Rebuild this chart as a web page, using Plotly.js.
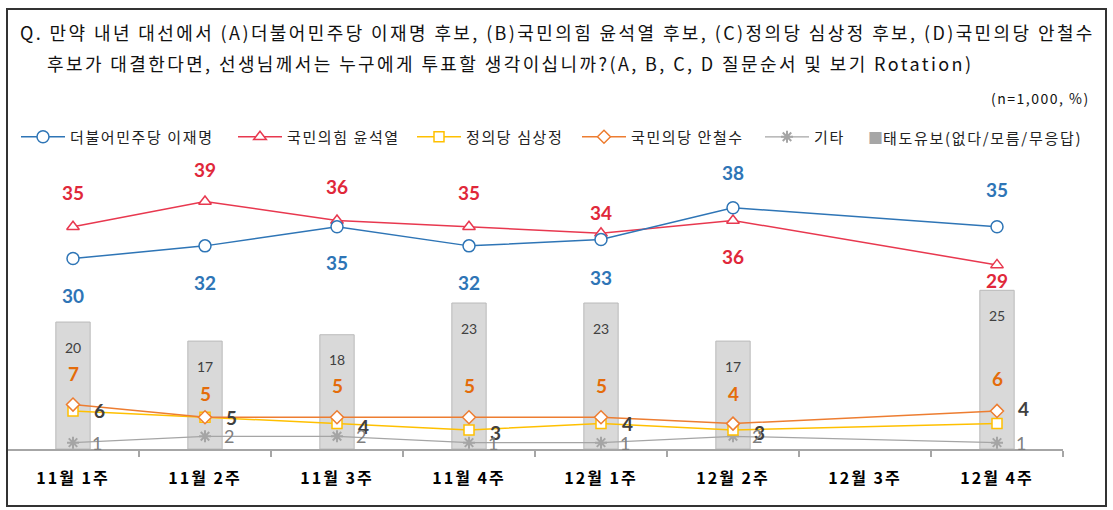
<!DOCTYPE html>
<html>
<head>
<meta charset="utf-8">
<script src="https://cdn.plot.ly/plotly-3.0.1.min.js"></script>
<style>
html, body { margin: 0; padding: 0; background: #fff; }
#chart { width: 1113px; height: 510px; }
</style>
</head>
<body>
<div id="chart"></div>
<script>
// DATA
var weeks = ['11월 1주', '11월 2주', '11월 3주', '11월 4주', '12월 1주', '12월 2주', '12월 3주', '12월 4주'];
var lee = [30, 32, 35, 32, 33, 38, null, 35];
var yoon = [35, 39, 36, 35, 34, 36, null, 29];
var sim = [6, 5, 4, 3, 4, 3, null, 4];
var ahn = [7, 5, 5, 5, 5, 4, null, 6];
var etc = [1, 2, 2, 1, 1, 2, null, 1];
var undecided = [20, 17, 18, 23, 23, 17, null, 25];

var names = ['더불어민주당 이재명', '국민의힘 윤석열', '정의당 심상정', '국민의당 안철수', '기타', '태도유보(없다/모름/무응답)'];

// label placement (pixels, relative to the point)
var leeShift = [-37, -37, -36, -37, -38, 35, 0, 37];
var yoonShift = [34, 32, 34, 34, 21, -36, 0, -16];
var ahnShift = [31, 24, 32, 32, 32, 30, 0, 32];
var simShift = [0, 0, -3, -3, 0, -3, 0, 15];

// GEOMETRY HELPERS
var W = 1113, H = 510, L = 7, R = 50, T = 157, B = 61;
var pw = W - L - R, ph = H - T - B;
function px(x) { return (x - L) / pw; }
function py(y) { return (H - B - y) / ph; }

var KR = '"Noto Sans CJK KR", "Noto Sans", sans-serif';
var NUM = 'Lato, "Noto Sans", sans-serif';

// wide letter spacing like the original
function spaced(s, ls) {
	return '<span style="letter-spacing:' + ls + 'px">' + s + '</span>';
}

function labels(vals, shifts, dx, font) {
	var out = [];
	vals.forEach(function (v, i) {
		if (v === null) return;
		out.push({
			x: weeks[i], y: v, xref: 'x', yref: 'y',
			text: String(v), showarrow: false,
			xshift: dx, yshift: shifts ? shifts[i] : 0,
			font: font
		});
	});
	return out;
}

var colors = {
	lee: '#2E75B6', yoon: '#E8384F', sim: '#FFC000',
	ahn: '#ED7D31', etc: '#A5A5A5', bar: '#D9D9D9'
};

var traces = [
	{
		type: 'bar', x: weeks, y: undecided, width: 0.26,
		marker: { color: colors.bar, line: { color: '#BABABA', width: 1 } },
		showlegend: false, hoverinfo: 'skip'
	},
	{
		type: 'scatter', mode: 'lines+markers', name: spaced(names[4], 1.6), x: weeks, y: etc,
		connectgaps: true, legend: 'legend5',
		line: { color: colors.etc, width: 1.25 },
		marker: { symbol: 'asterisk-open', size: 10, line: { color: '#BFBFBF', width: 2 } }
	},
	{
		type: 'scatter', mode: 'lines+markers', name: spaced(names[2], 1.6), x: weeks, y: sim,
		connectgaps: true, legend: 'legend3',
		line: { color: colors.sim, width: 1.5 },
		marker: { symbol: 'square', size: 10, color: '#fff', line: { color: colors.sim, width: 1.5 } }
	},
	{
		type: 'scatter', mode: 'lines+markers', name: spaced(names[3], 1.6), x: weeks, y: ahn,
		connectgaps: true, legend: 'legend4',
		line: { color: colors.ahn, width: 1.5 },
		marker: { symbol: 'diamond', size: 10, color: '#fff', line: { color: colors.ahn, width: 1.5 } }
	},
	{
		type: 'scatter', mode: 'lines+markers', name: spaced(names[1], 1.6), x: weeks, y: yoon,
		connectgaps: true, legend: 'legend2',
		line: { color: colors.yoon, width: 1.5 },
		marker: { symbol: 'triangle-up', size: 11, color: '#fff', line: { color: colors.yoon, width: 1.5 } }
	},
	{
		type: 'scatter', mode: 'lines+markers', name: spaced(names[0], 1.6), x: weeks, y: lee,
		connectgaps: true, legend: 'legend',
		line: { color: colors.lee, width: 1.5 },
		marker: { symbol: 'circle', size: 12, color: '#fff', line: { color: colors.lee, width: 1.5 } }
	}
];

var annotations = [];
annotations = annotations.concat(labels(lee, leeShift, 0, { family: NUM, size: 19, color: colors.lee, weight: 'bold' }));
annotations = annotations.concat(labels(yoon, yoonShift, 0, { family: NUM, size: 19, color: '#E0283A', weight: 'bold' }));
annotations = annotations.concat(labels(ahn, ahnShift, 0, { family: NUM, size: 19, color: '#E46C0A', weight: 'bold' }));
annotations = annotations.concat(labels(sim, simShift, 26, { family: NUM, size: 19, color: '#404040', weight: 'bold' }));
annotations = annotations.concat(labels(etc, null, 24, { family: NUM, size: 18, color: '#7F7F7F' }));
annotations = annotations.concat(labels(undecided, undecided.map(function () { return -25; }), 0, { family: NUM, size: 14, color: '#404040' }));

// titles
annotations.push({
	xref: 'paper', yref: 'paper', x: px(18), y: py(32), xanchor: 'left', yanchor: 'middle', showarrow: false,
	text: spaced('Q. 만약 내년 대선에서 (A)더불어민주당 이재명 후보, (B)국민의힘 윤석열 후보, (C)정의당 심상정 후보, (D)국민의당 안철수', 2.4),
	font: { family: KR, size: 18, color: '#111' }
});
annotations.push({
	xref: 'paper', yref: 'paper', x: px(45), y: py(63), xanchor: 'left', yanchor: 'middle', showarrow: false,
	text: spaced('후보가 대결한다면, 선생님께서는 누구에게 투표할 생각이십니까?(A, B, C, D 질문순서 및 보기 Rotation)', 2.4),
	font: { family: KR, size: 18, color: '#111' }
});
annotations.push({
	xref: 'paper', yref: 'paper', x: px(1092), y: py(98), xanchor: 'right', yanchor: 'middle', showarrow: false,
	text: spaced('(n=1,000, %)', 1.5), font: { family: KR, size: 14, color: '#111' }
});
annotations.push({
	xref: 'paper', yref: 'paper', x: px(866), y: py(137), xanchor: 'left', yanchor: 'middle', showarrow: false,
	text: '<span style="color:#A6A6A6">■</span>' + spaced(names[5], 1.7), font: { family: KR, size: 15, color: '#222' }
});

function leg(x) {
	return {
		x: px(x), y: py(137), xanchor: 'left', yanchor: 'middle', orientation: 'h',
		itemwidth: 44,
		bgcolor: 'rgba(0,0,0,0)', font: { family: KR, size: 15, color: '#222' }
	};
}

var layout = {
	width: W, height: H,
	margin: { l: L, r: R, t: T, b: B },
	paper_bgcolor: '#fff', plot_bgcolor: '#fff',
	showlegend: true,
	legend: leg(16), legend2: leg(233), legend3: leg(412), legend4: leg(577), legend5: leg(760),
	xaxis: {
		type: 'category', range: [-0.5, 7.5], fixedrange: true,
		tickmode: 'array', tickvals: weeks,
		ticktext: weeks.map(function (w) { return spaced(w, 2); }),
		tickson: 'boundaries', ticks: 'outside', ticklen: 6, tickcolor: '#A6A6A6', tickwidth: 1.5,
		showline: true, linecolor: '#A6A6A6', linewidth: 1.5,
		showgrid: false, zeroline: false,
		ticklabelstandoff: 14,
		tickfont: { family: KR, size: 16, color: '#000', weight: 'bold' }
	},
	yaxis: { range: [0, 46], visible: false, fixedrange: true },
	annotations: annotations,
	shapes: [{
		type: 'rect', xref: 'paper', yref: 'paper',
		x0: px(7), x1: px(1106), y0: py(506), y1: py(9),
		line: { color: '#333', width: 2 }
	}]
};

Plotly.newPlot('chart', traces, layout, { displayModeBar: false, staticPlot: true });
</script>
</body>
</html>
